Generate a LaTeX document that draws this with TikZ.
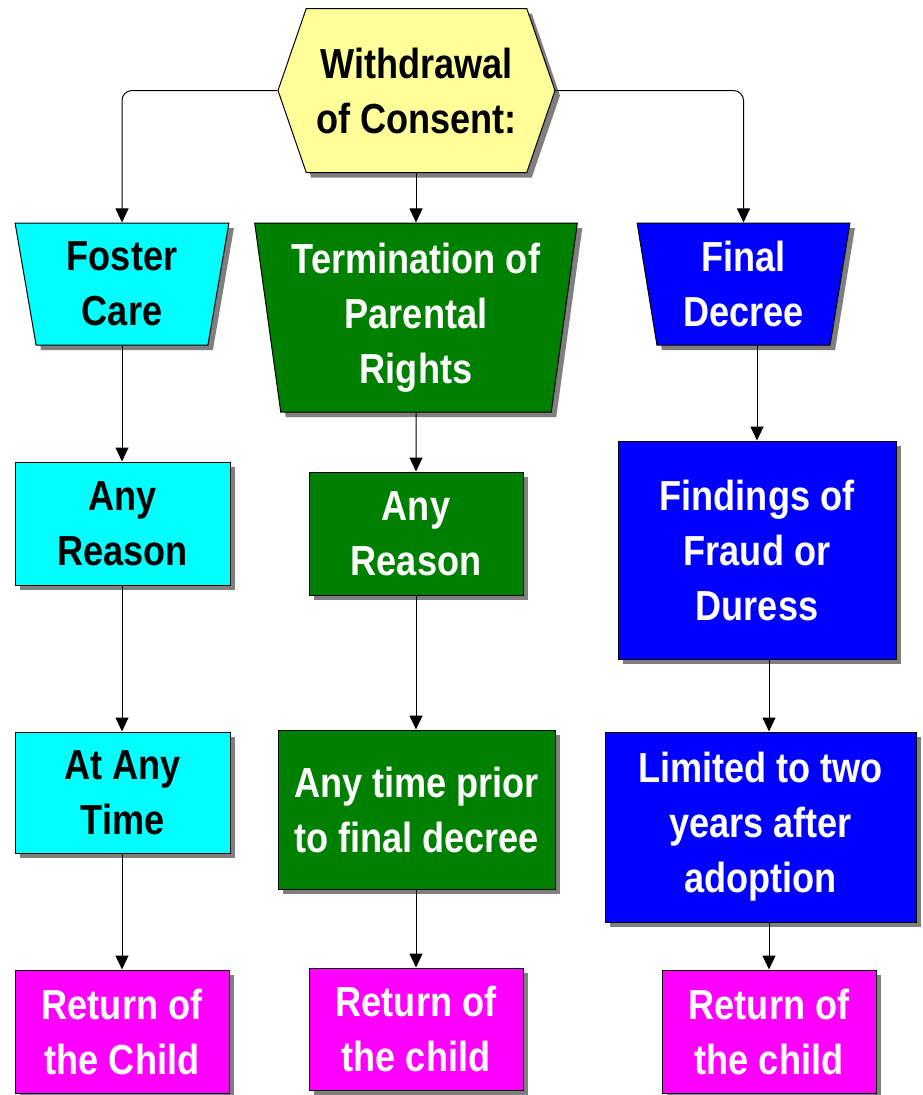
\documentclass[tikz,border=0pt]{standalone}
\usepackage{fontspec}
\setmainfont{Liberation Sans}[FakeStretch=0.86]
\usetikzlibrary{shapes.geometric,shapes.symbols,shadows,arrows.meta}

\definecolor{hexyellow}{HTML}{FFFF99}
\definecolor{fostercyan}{HTML}{00FFFF}
\definecolor{termgreen}{HTML}{008000}
\definecolor{decreeblue}{HTML}{0000FF}
\definecolor{returnpink}{HTML}{FF00FF}
\definecolor{shadowgray}{HTML}{7F7F7F}

\begin{document}
\begin{tikzpicture}[
    x=1pt, y=-1pt,
    box/.style={draw=black, line width=1pt, align=center, inner sep=2pt,
        font=\fontsize{42}{55}\selectfont\bfseries,
        drop shadow={shadow xshift=5pt, shadow yshift=-5pt, fill=shadowgray, opacity=1}},
    rect/.style={box, rectangle},
    trap/.style={box, trapezium, shape border rotate=180,
        trapezium left angle=81, trapezium right angle=81, trapezium stretches=true},
    link/.style={line width=1pt, -{Triangle[width=13pt,length=14pt]}}
]

\useasboundingbox (0,0) rectangle (922,1095);

% Top of the chart
\node[box, signal, signal to=west and east, signal pointer angle=142,
      fill=hexyellow, minimum width=277pt, minimum height=164pt]
      (consent) at (416.5,90.5) {Withdrawal\\of Consent:};

% Three heads
\node[trap, fill=fostercyan, minimum width=214pt, minimum height=122pt]
      (foster) at (122,284) {Foster\\Care};
\node[trap, fill=termgreen, text=white, minimum width=324pt, minimum height=189pt]
      (term) at (416,317.5) {Termination of\\Parental\\Rights};
\node[trap, fill=decreeblue, text=white, minimum width=213pt, minimum height=122pt]
      (decree) at (743.5,284) {Final\\Decree};

% Foster care column
\node[rect, fill=fostercyan, minimum width=215pt, minimum height=123pt]
      (fosterreason) at (122.5,523.5) {Any\\Reason};
\node[rect, fill=fostercyan, minimum width=215pt, minimum height=121pt]
      (fostertime) at (122.5,792.5) {At Any\\Time};
\node[rect, fill=returnpink, text=white, minimum width=214pt, minimum height=123pt]
      (fosterreturn) at (122,1031.5) {Return of\\the Child};

% Termination column
\node[rect, fill=termgreen, text=white, minimum width=214pt, minimum height=123pt]
      (termreason) at (416,533.5) {Any\\Reason};
\node[rect, fill=termgreen, text=white, minimum width=277pt, minimum height=159pt]
      (termtime) at (416.5,809.5) {Any time prior\\to final decree};
\node[rect, fill=returnpink, text=white, minimum width=214pt, minimum height=122pt]
      (termreturn) at (416,1029) {Return of\\the child};

% Final decree column
\node[rect, fill=decreeblue, text=white, minimum width=278pt, minimum height=218pt]
      (decreefraud) at (757,550) {Findings of\\Fraud or\\Duress};
\node[rect, fill=decreeblue, text=white, minimum width=311pt, minimum height=190pt]
      (decreetime) at (760.5,827) {Limited to two\\years after\\adoption};
\node[rect, fill=returnpink, text=white, minimum width=214pt, minimum height=123pt]
      (decreereturn) at (769,1031.5) {Return of\\the child};

% Connectors
\draw[link, rounded corners=10pt] (consent.west) -| (foster.north);
\draw[link, rounded corners=10pt] (consent.east) -| (decree.north);
\draw[link] (term.north |- consent.south) -- (term.north);

\draw[link] (fosterreturn.north |- foster.south) -- (fosterreturn.north |- fosterreason.north);
\draw[link] (fosterreturn.north |- fosterreason.south) -- (fosterreturn.north |- fostertime.north);
\draw[link] (fosterreturn.north |- fostertime.south) -- (fosterreturn.north);

\draw[link] (term.south) -- (termreason.north);
\draw[link] (termreason.south) -- (termreason.south |- termtime.north);
\draw[link] (termreason.south |- termtime.south) -- (termreturn.north);

\draw[link] (decreefraud.north |- decree.south) -- (decreefraud.north);
\draw[link] (decreereturn.north |- decreefraud.south) -- (decreereturn.north |- decreetime.north);
\draw[link] (decreereturn.north |- decreetime.south) -- (decreereturn.north);

\end{tikzpicture}
\end{document}
